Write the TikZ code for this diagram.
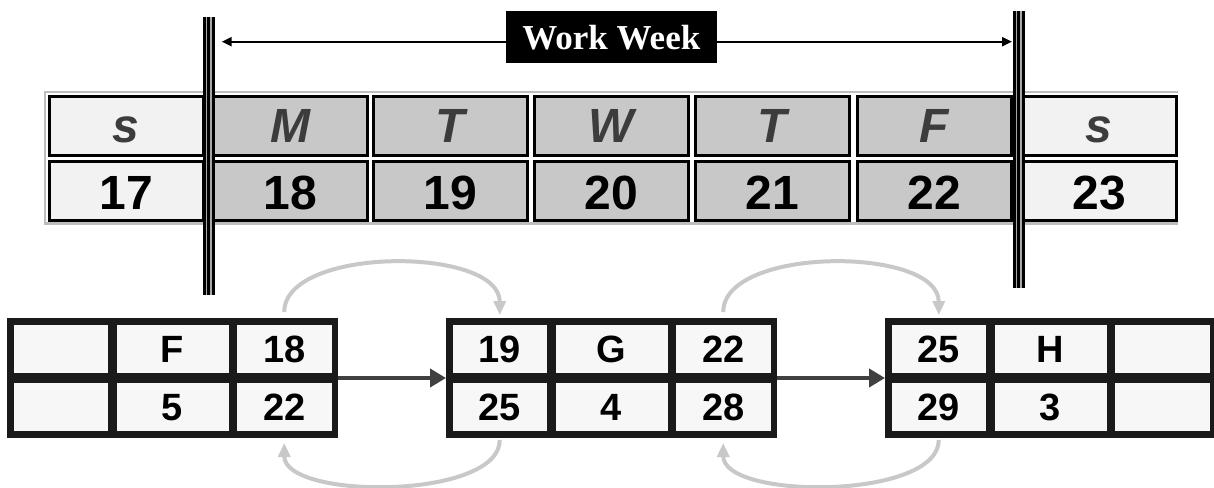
\documentclass[tikz,border=0pt]{standalone}
\usepackage{fontspec}
\setmainfont{Liberation Sans}
\newfontfamily\wwfont{Liberation Serif}
\usetikzlibrary{arrows.meta,calc}
\definecolor{wkend}{HTML}{F2F2F2}
\definecolor{wkday}{HTML}{C8C8C8}
\definecolor{dtext}{HTML}{3C3C3C}
\definecolor{boxdark}{HTML}{1A1A1A}
\definecolor{boxfill}{HTML}{F7F7F7}
\definecolor{arcgray}{HTML}{C8C8C8}
\definecolor{arrdark}{HTML}{404040}
\definecolor{gapgray}{HTML}{A8A8A8}
\definecolor{framegray}{HTML}{BDBDBD}
\tikzset{
  daycell/.style={draw=black, line width=3pt, minimum width=154pt, minimum height=59pt,
    inner sep=0pt, outer sep=0pt, font=\fontsize{48}{56}\selectfont\bfseries},
  dayrow/.style={daycell, text=dtext, font=\fontsize{48}{56}\selectfont\bfseries\itshape,
    text height=34.4pt, text depth=0pt},
  numrow/.style={daycell, text=black, text height=38pt, text depth=0pt},
  bbox/.style={fill=boxdark, minimum width=331pt, minimum height=120pt, inner sep=0pt, outer sep=0pt},
  bcell/.style={fill=boxfill, minimum height=48pt, inner sep=0pt, outer sep=0pt,
    font=\fontsize{38}{44}\selectfont\bfseries, text height=27.5pt, text depth=0pt},
  tripleline/.style={line width=12pt, black},
  gapline/.style={line width=1.7pt, gapgray},
  linkarrow/.style={arrdark, line width=4.5pt, -{Triangle[length=16pt,width=18pt]}},
  lagarc/.style={arcgray, line width=4pt, -{Triangle[length=14pt,width=12pt]}},
  wwarrow/.style={black, line width=2pt, {Triangle[length=10pt,width=9pt]}-{Triangle[length=10pt,width=9pt]}},
  wwlabel/.style={fill=black, text=white, font=\wwfont\fontsize{35}{40}\selectfont\bfseries,
    minimum width=211pt, minimum height=52pt, inner sep=0pt}
}
\newcommand\daycol[5]{%
  \node[dayrow, fill=#3] (#1d) at (#2,125.5) {#4};
  \node[numrow, fill=#3] (#1n) at (#2,190.85) {#5};
}
\newcommand\actbox[8]{%
  \node[bbox] (#1) at (#2+165.5,378) {};
  \node[bcell, minimum width=94.5pt] (#1c1t) at (#2+53.75,348.85) {#3};
  \node[bcell, minimum width=112pt]  (#1c2t) at (#2+165.5,348.85) {#4};
  \node[bcell, minimum width=94.5pt] (#1c3t) at (#2+277.25,348.85) {#5};
  \node[bcell, minimum width=94.5pt] (#1c1b) at (#2+53.75,406.85) {#6};
  \node[bcell, minimum width=112pt]  (#1c2b) at (#2+165.5,406.85) {#7};
  \node[bcell, minimum width=94.5pt] (#1c3b) at (#2+277.25,406.85) {#8};
}
\begin{document}
\begin{tikzpicture}[x=1pt,y=-1pt]
\useasboundingbox[fill=white] (0,0) rectangle (1214,487);

% frame of the calendar table
\draw[framegray, line width=2.5pt] (1178,92) -- (45.2,92) -- (45.2,223.3) -- (1178,223.3);

% calendar cells
\daycol{sa}{126.25}{wkend}{s}{17}
\daycol{mo}{290.25}{wkday}{M}{18}
\daycol{tu}{450.5}{wkday}{T}{19}
\daycol{we}{611}{wkday}{W}{20}
\daycol{th}{772.5}{wkday}{T}{21}
\daycol{fr}{934.25}{wkday}{F}{22}
\daycol{su}{1099.25}{wkend}{s}{23}

% week boundary triple lines
\coordinate (Ltop) at (209,17);
\coordinate (Lbot) at (209,295);
\coordinate (Rtop) at (1019,11);
\coordinate (Rbot) at (1019,288);
\draw[tripleline] (Ltop) -- (Lbot);
\draw[tripleline] (Rtop) -- (Rbot);
\draw[gapline] ([xshift=-2.5pt]Ltop) -- ([xshift=-2.5pt]Lbot);
\draw[gapline] ([xshift=2pt]Ltop) -- ([xshift=2pt]Lbot);
\draw[gapline] ([xshift=-2.5pt]Rtop) -- ([xshift=-2.5pt]Rbot);
\draw[gapline] ([xshift=2pt]Rtop) -- ([xshift=2pt]Rbot);

% work week arrow and label
\coordinate (wwL) at (221.7,41.7);
\coordinate (wwR) at (1012,41.7);
\draw[wwarrow] (wwL) -- (wwR);
\node[wwlabel] (ww) at (611.3,37.2) {Work Week};

% activity boxes
\actbox{b1}{7}{}{F}{18}{}{5}{22}
\actbox{b2}{446}{19}{G}{22}{25}{4}{28}
\actbox{b3}{885}{25}{H}{}{29}{3}{}

% links
\draw[linkarrow] (b1.east) -- (b2.west);
\draw[linkarrow] (b2.east) -- (b3.west);

% forward pass arcs
\draw[lagarc] ($(b1c3t.north |- b1.north)+(0,-6)$) .. controls +(0,-66) and +(0,-69) .. ($(b2c1t.north |- b2.north)+(0,-3)$);
\draw[lagarc] ($(b2c3t.north |- b2.north)+(0,-6)$) .. controls +(0,-66) and +(0,-69) .. ($(b3c1t.north |- b3.north)+(0,-3)$);
% backward pass arcs
\draw[lagarc] ($(b2c1b.south |- b2.south)+(0,2)$) .. controls +(0,60) and +(0,57) .. ($(b1c3b.south |- b1.south)+(0,5)$);
\draw[lagarc] ($(b3c1b.south |- b3.south)+(0,2)$) .. controls +(0,60) and +(0,57) .. ($(b2c3b.south |- b2.south)+(0,5)$);
\end{tikzpicture}
\end{document}
